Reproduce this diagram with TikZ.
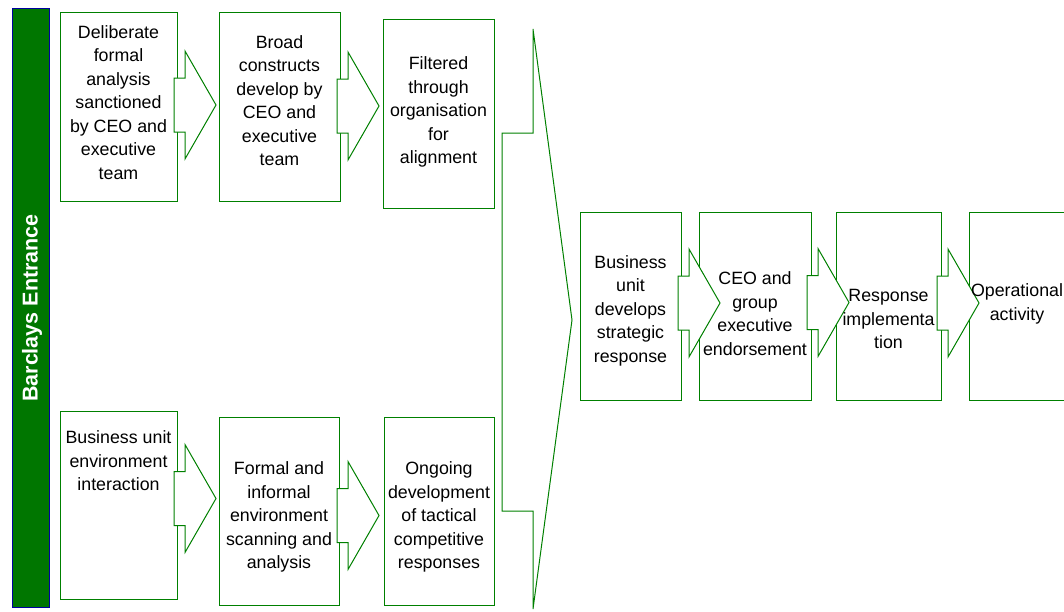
\documentclass[tikz,border=0pt]{standalone}
\usepackage{fontspec}
\setmainfont{Liberation Sans}
\usepackage{tikz}
\usetikzlibrary{positioning}
\definecolor{lgreen}{RGB}{0,128,0}
\definecolor{bgreen}{RGB}{0,118,0}
\definecolor{bblue}{RGB}{0,0,160}

\begin{document}
\begin{tikzpicture}[x=1pt, y=-1pt, font=\fontsize{17.8}{23.5}\selectfont, box/.style={rectangle, draw=lgreen, line width=1pt, inner sep=0pt}, txt/.style={inner sep=0pt, align=center}, bar/.style={rectangle, draw=bblue, fill=bgreen, line width=1pt, rotate=90, minimum width=599pt, minimum height=37pt}, blockarrow/.pic={\draw[draw=lgreen, fill=white, line width=1pt] (0,-27) -- (11,-27) -- (11,-54) -- (42,0) -- (11,54) -- (11,27) -- (0,27) -- cycle;}]
\useasboundingbox (0,0) rectangle (1064,611);
\clip (0,0) rectangle (1064,611);
\node[bar] (be) at (30.5,307.5) {};
\node[txt, rotate=90, text=white, font=\bfseries\fontsize{21.5}{24}\selectfont] (bet) at (32,308) {Barclays Entrance};
\node[box, minimum width=117pt, minimum height=189pt] (d1) at (118.5,106.5) {};
\node[box, minimum width=121pt, minimum height=189pt] (d2) at (279.5,106.5) {};
\node[box, minimum width=111pt, minimum height=189pt] (d3) at (438.5,113.5) {};
\node[box, minimum width=117pt, minimum height=188pt] (e1) at (118.5,505) {};
\node[box, minimum width=120pt, minimum height=188pt] (e2) at (279,511) {};
\node[box, minimum width=110pt, minimum height=188pt] (e3) at (439,511) {};
\node[box, minimum width=101pt, minimum height=188pt] (r1) at (630.5,306) {};
\node[box, minimum width=112pt, minimum height=188pt] (r2) at (755,306) {};
\node[box, minimum width=105pt, minimum height=188pt] (r3) at (888.5,306) {};
\node[box, minimum width=105pt, minimum height=188pt] (r4) at (1021.5,306) {};
\pic at (174,105) {blockarrow}; \pic at (337,106) {blockarrow};
\pic at (174,498.5) {blockarrow}; \pic at (337,515.5) {blockarrow};
\pic at (678,303) {blockarrow}; \pic at (807,302.5) {blockarrow}; \pic at (937,303) {blockarrow};
\draw[draw=lgreen, fill=white, line width=1pt] (502,133) -- (533,133) -- (533,29) -- (572,320) -- (533,609) -- (533,511) -- (502,511) -- cycle;
\node[txt] (d1t) at ([yshift=4pt]d1.center) {Deliberate\\formal\\analysis\\sanctioned\\by CEO and\\executive\\team};
\node[txt] (d2t) at ([yshift=6pt]d2.center) {Broad\\constructs\\develop by\\CEO and\\executive\\team};
\node[txt] (d3t) at ([yshift=1.5pt]d3.center) {Filtered\\through\\organisation\\for\\alignment};
\node[txt, below=20pt of e1.north] (e1t) {Business unit\\environment\\interaction};
\node[txt] (e2t) at ([yshift=-6pt]e2.center) {Formal and\\informal\\environment\\scanning and\\analysis};
\node[txt] (e3t) at ([yshift=-6pt]e3.center) {Ongoing\\development\\of tactical\\competitive\\responses};
\node[txt] (r1t) at ([yshift=-4.5pt]r1.center) {Business\\unit\\develops\\strategic\\response};
\node[txt] (r2t) at ([yshift=-7.5pt]r2.center) {CEO and\\group\\executive\\endorsement};
\node[txt] (r3t) at ([yshift=-13pt]r3.center) {Response\\implementa\\tion};
\node[txt] (r4t) at ([xshift=-4.5pt, yshift=2pt]r4.center) {Operational\\activity};
\end{tikzpicture}
\end{document}
